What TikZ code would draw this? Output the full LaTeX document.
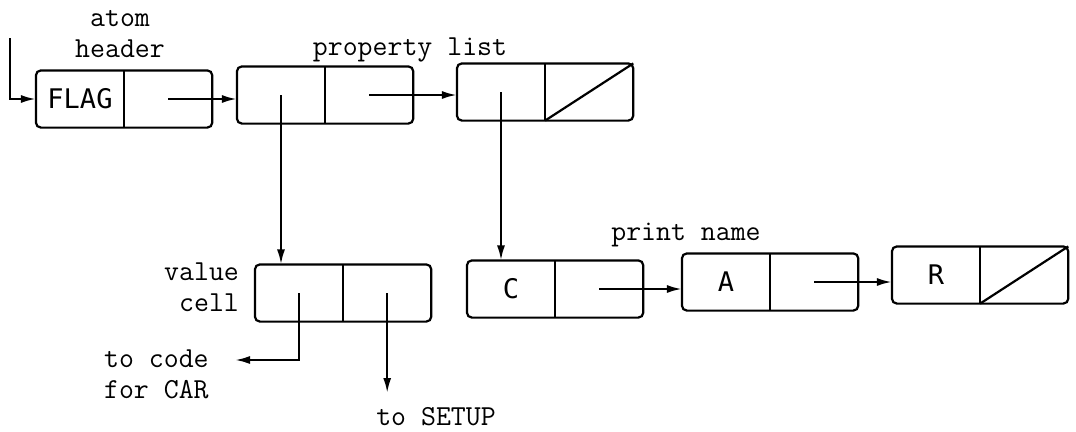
\documentclass[tikz,border=0pt]{standalone}
\usepackage{fontspec}
\newfontfamily\cellfont{DejaVu Sans Mono}
\usetikzlibrary{arrows.meta,positioning}
\tikzset{
  half/.style={minimum width=86pt,minimum height=55pt,inner sep=0pt,
    font=\cellfont\fontsize{27}{30}\selectfont},
  consbox/.style={rounded corners=5pt},
  arr/.style={-{Latex[length=15pt,width=8pt]}},
  lbl/.style={font=\ttfamily\fontsize{29}{31}\selectfont,inner sep=0pt}
}
\begin{document}
\begin{tikzpicture}[x=1pt,y=-1pt,line width=2.2pt]
      \useasboundingbox (0,0) rectangle (1076,431);

      % atom header
      \node[half] (flagL) at (80,99) {FLAG};
      \node[half,right=0pt of flagL] (flagR) {};
      \draw[consbox] (flagL.north west) rectangle (flagR.south east);
      \draw (flagL.north east) -- (flagL.south east);

      % property list
      \node[half] (propAL) at (281,95) {};
      \node[half,right=0pt of propAL] (propAR) {};
      \draw[consbox] (propAL.north west) rectangle (propAR.south east);
      \draw (propAL.north east) -- (propAL.south east);

      \node[half] (propBL) at (501,92) {};
      \node[half,right=0pt of propBL] (propBR) {};
      \draw[consbox] (propBL.north west) rectangle (propBR.south east);
      \draw (propBL.north east) -- (propBL.south east);
      \draw (propBL.south east) -- (propBR.north east);

      % value cell
      \node[half] (valL) at (299,293) {};
      \node[half,right=0pt of valL] (valR) {};
      \draw[consbox] (valL.north west) rectangle (valR.south east);
      \draw (valL.north east) -- (valL.south east);

      % print name
      \node[half] (pnCL) at (511,289) {C};
      \node[half,right=0pt of pnCL] (pnCR) {};
      \draw[consbox] (pnCL.north west) rectangle (pnCR.south east);
      \draw (pnCL.north east) -- (pnCL.south east);

      \node[half] (pnAL) at (726,282) {A};
      \node[half,right=0pt of pnAL] (pnAR) {};
      \draw[consbox] (pnAL.north west) rectangle (pnAR.south east);
      \draw (pnAL.north east) -- (pnAL.south east);

      \node[half] (pnRL) at (936,275) {R};
      \node[half,right=0pt of pnRL] (pnRR) {};
      \draw[consbox] (pnRL.north west) rectangle (pnRR.south east);
      \draw (pnRL.north east) -- (pnRL.south east);
      \draw (pnRL.south east) -- (pnRR.north east);

      % ラベル
      \node[lbl,align=center] (atomlbl) at (120,34) {atom\\header};
      \node[lbl] (proplbl) at (410,50) {property list};
      \node[lbl,align=right,anchor=east] (vallbl) at (240,287) {value\\cell};
      \node[lbl,align=left,anchor=west] (carlbl) at (103,374) {to code\\for CAR};
      \node[lbl] (setuplbl) at (436,417) {to SETUP};
      \node[lbl] (pnlbl) at (686,235) {print name};

      % 矢印
      \coordinate (entry) at (10,38);
      \coordinate (car) at (235,360);
      \coordinate (setup) at (385,393);
      \draw[arr] (entry) |- (flagL.west);
      \draw[arr] (flagR.center) -- (flagR.center -| propAL.west);
      \draw[arr] (propAR.center) -- (propAR.center -| propBL.west);
      \draw[arr] (propAL.center) -- (propAL.center |- valL.north);
      \draw[arr] (propBL.center) -- (propBL.center |- pnCL.north);
      \draw[arr] (valL.center) |- (car);
      \draw[arr] (valR.center) -- (valR.center |- setup);
      \draw[arr] (pnCR.center) -- (pnCR.center -| pnAL.west);
      \draw[arr] (pnAR.center) -- (pnAR.center -| pnRL.west);
    \end{tikzpicture}
\end{document}
